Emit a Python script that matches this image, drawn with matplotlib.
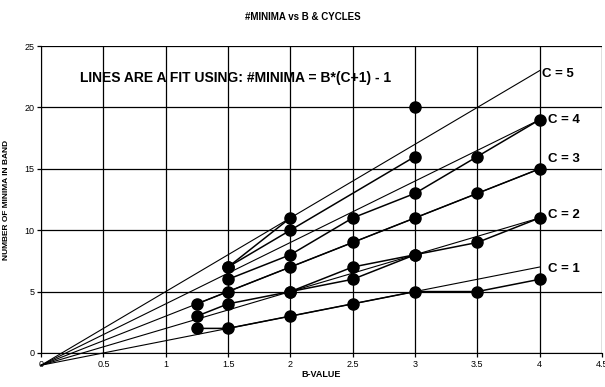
#!/usr/bin/env python3
"""Number of minima in band versus B-value, one set of runs per cycle count."""

import numpy as np
import matplotlib
matplotlib.use("Agg")
import matplotlib.pyplot as plt

plt.rcParams["font.family"] = ["Liberation Sans", "DejaVu Sans"]

b_values = [1.25, 1.5, 2, 2.5, 3, 3.5, 4]

# measured minima per run, NaN where no run was made
cycles_1 = [2, 2, 3, 4, 5, 5, 6]
cycles_2 = [3, 4, 5, 6, 8, 9, 11]
cycles_3 = [4, 5, 7, 9, 11, 13, 15]
cycles_4 = [np.nan, 6, 8, 11, 13, 16, 19]
cycles_5 = [np.nan, 7, 10, np.nan, 16, np.nan, np.nan]

# repeat runs, gaps left open
repeat_2 = [np.nan, np.nan, 5, 7, 8, np.nan, np.nan]
repeat_5 = [np.nan, 7, 11, np.nan, 20, np.nan, np.nan]

fit_cycles = [1, 2, 3, 4, 5]
fit_b = [0, 4]
label_x = [4.07, 4.07, 4.07, 4.07, 4.02]
label_y = [6.8, 11.2, 15.8, 19.0, 22.7]


def fit(b, c):
    return b * (c + 1) - 1


fig = plt.figure(figsize=(6.05, 3.87), dpi=100)
ax = fig.add_axes([0.068, 0.088, 0.927, 0.793])

ax.set_xlim(0, 4.5)
ax.set_ylim(0, 25)
ax.set_xticks(np.arange(0, 4.51, 0.5))
ax.set_xticklabels(["0", "0.5", "1", "1.5", "2", "2.5", "3", "3.5", "4", "4.5"])
ax.set_yticks(np.arange(0, 26, 5))
ax.grid(True, color="black", linewidth=0.9)
ax.set_axisbelow(True)
for side in ["top", "right"]:
    ax.spines[side].set_visible(False)
ax.tick_params(labelsize=6.5, length=3, width=0.9, direction="out", pad=2)

# fit lines
for c in fit_cycles:
    xs = np.array(fit_b, dtype=float)
    ax.plot(xs, fit(xs, c), color="black", linewidth=0.8, clip_on=False, zorder=2)

runs = [cycles_1, cycles_2, cycles_3, cycles_4, cycles_5]
x_arr = np.array(b_values)
for run in runs:
    y_arr = np.array(run, dtype=float)
    keep = ~np.isnan(y_arr)
    ax.plot(x_arr[keep], y_arr[keep], color="black", linewidth=1.1,
            marker="o", markersize=8, zorder=3)

for run in [repeat_2, repeat_5]:
    ax.plot(x_arr, np.array(run, dtype=float), color="black", linewidth=1.1,
            marker="o", markersize=8, zorder=3)

for c, x, y in zip(fit_cycles, label_x, label_y):
    ax.text(x, y, f"C = {c}", fontsize=9.5, fontweight="bold",
            ha="left", va="center")

ax.text(0.31, 22.4, "LINES ARE A FIT USING: #MINIMA = B*(C+1) - 1",
        fontsize=10, fontweight="bold", ha="left", va="center")

ax.set_xlabel("B-VALUE", fontsize=6.5, fontweight="bold", labelpad=1)
ax.set_ylabel("NUMBER OF MINIMA IN BAND", fontsize=6, fontweight="bold", labelpad=10)
fig.suptitle("#MINIMA vs B & CYCLES", fontsize=7, fontweight="bold", y=0.97)

fig.savefig("out.png", dpi=100)
